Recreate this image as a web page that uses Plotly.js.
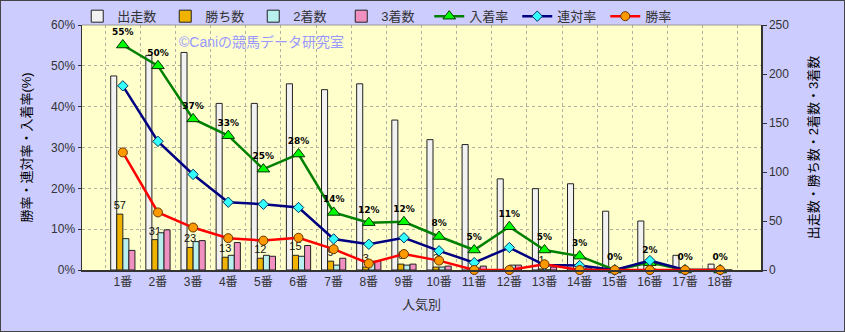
<!DOCTYPE html>
<html>
<head>
<meta charset="utf-8">
<script src="https://cdn.plot.ly/plotly-3.0.1.min.js"></script>
<style>
  html, body { margin: 0; padding: 0; background: #ccccff; }
  #wrap { width: 845px; height: 332px; box-sizing: border-box; border: 1px solid #444; }
  #chart { width: 843px; height: 330px; }
</style>
</head>
<body>
<div id="wrap"><div id="chart"></div></div>
<script>
const categories = ['1番','2番','3番','4番','5番','6番','7番','8番','9番','10番','11番','12番','13番','14番','15番','16番','17番','18番'];
const runners    = [198, 219, 222, 170, 170, 190, 184, 190, 153, 133, 128, 93, 83, 88, 60, 50, 15, 6];
const wins       = [57, 31, 23, 13, 12, 15, 9, 3, 6, 3, 0, 0, 1, 0, 0, 0, 0, 0];
const seconds    = [32, 38, 29, 15, 15, 14, 5, 9, 5, 3, 2, 5, 0, 1, 0, 1, 0, 0];
const thirds     = [20, 41, 30, 28, 14, 25, 12, 9, 6, 4, 4, 5, 3, 2, 0, 0, 0, 0];
const placeRate    = [55.1, 50.0, 37.0, 32.9, 24.7, 28.4, 14.1, 11.6, 11.8, 8.2, 4.9, 10.6, 4.9, 3.4, 0, 1.8, 0, 0];
const quinellaRate = [45.1, 31.5, 23.4, 16.6, 16.1, 15.3, 7.6, 6.3, 7.9, 4.7, 1.8, 5.5, 1.2, 1.1, 0, 2.3, 0, 0];
const winRate      = [28.8, 14.1, 10.4, 7.8, 7.2, 7.9, 5.1, 1.6, 3.9, 2.3, 0, 0, 1.4, 0, 0, 0, 0, 0];

const JP = 'Liberation Sans, Noto Sans CJK JP, sans-serif';

const traces = [
  {type:'bar', name:'出走数', x:categories, y:runners, yaxis:'y',
   marker:{color:'#f2f2f2', line:{color:'#222', width:1}}},
  {type:'bar', name:'勝ち数', x:categories, y:wins, yaxis:'y',
   text: wins.map(v => v > 0 ? String(v) : ''), textposition:'outside', cliponaxis:false,
   constraintext:'none',
   textfont:{size:11, color:'#111', family:JP},
   marker:{color:'#f0b400', line:{color:'#222', width:1}}},
  {type:'bar', name:'2着数', x:categories, y:seconds, yaxis:'y',
   marker:{color:'#b8f0f0', line:{color:'#222', width:1}}},
  {type:'bar', name:'3着数', x:categories, y:thirds, yaxis:'y',
   marker:{color:'#f090c0', line:{color:'#222', width:1}}},
  {type:'scatter', mode:'lines+markers+text', name:'入着率', x:categories, y:placeRate, yaxis:'y2',
   texttemplate:'%{y:.0f}%', textposition:'top center', cliponaxis:false,
   textfont:{size:9, color:'#000', family:'DejaVu Sans', weight:'bold'},
   line:{color:'#008000', width:2.5},
   marker:{symbol:'triangle-up', size:11, color:'#00ff00', line:{color:'#003300', width:1}}},
  {type:'scatter', mode:'lines+markers', name:'連対率', x:categories, y:quinellaRate, yaxis:'y2',
   cliponaxis:false,
   line:{color:'#000080', width:2.5},
   marker:{symbol:'diamond', size:8, color:'#33ffff', line:{color:'#003366', width:1}}},
  {type:'scatter', mode:'lines+markers', name:'勝率', x:categories, y:winRate, yaxis:'y2',
   cliponaxis:false,
   line:{color:'#ff0000', width:2.5},
   marker:{symbol:'circle', size:9, color:'#ff9900', line:{color:'#663300', width:1}}}
];

const layout = {
  width: 843, height: 330,
  margin: {l:81, r:83, t:24, b:61, autoexpand:false},
  paper_bgcolor:'#ccccff', plot_bgcolor:'#ffffcc',
  font:{family:JP, size:12, color:'#333'},
  barmode:'group', bargap:0.31, bargroupgap:0,
  showlegend:true,
  legend:{orientation:'h', x:-0.007, xanchor:'left', y:1.097, yanchor:'top',
          bgcolor:'rgba(0,0,0,0)', font:{size:13, color:'#333'},
          entrywidth:43, entrywidthmode:'pixels', itemwidth:30, traceorder:'normal'},
  xaxis:{type:'category', tickson:'boundaries', showgrid:true, gridcolor:'#b0b0a0', griddash:'dot',
         ticks:'', showline:true, linecolor:'#333', linewidth:1.5, mirror:false,
         tickfont:{size:12, color:'#333'},
         title:{text:'人気別', font:{size:13, color:'#333'}, standoff:12}},
  yaxis:{side:'right', range:[0,250], dtick:50, showgrid:false, zeroline:false,
         showline:true, linecolor:'#333', linewidth:1.5, ticks:'outside', ticklen:4, tickcolor:'#333',
         tickfont:{size:12, color:'#333'},
         title:{text:'出走数・勝ち数・2着数・3着数', font:{size:13, color:'#000'}, standoff:20}},
  yaxis2:{overlaying:'y', side:'left', range:[0,60], dtick:10, ticksuffix:'%',
          showgrid:true, gridcolor:'#b0b0a0', griddash:'dot', zeroline:false,
          showline:true, linecolor:'#333', linewidth:1.5, ticks:'outside', ticklen:3, tickcolor:'#333',
          tickfont:{size:12, color:'#333'},
          title:{text:'勝率・連対率・入着率(%)', font:{size:13, color:'#000'}, standoff:16}},
  shapes:[{type:'line', xref:'paper', yref:'paper', x0:0, x1:1, y0:1, y1:1,
           line:{color:'#999', width:1}}],
  annotations:[{text:'©Caniの競馬データ研究室', xref:'paper', yref:'paper',
                x:0.14, xanchor:'left', y:0.93, yanchor:'middle', showarrow:false,
                font:{size:14, color:'#9999ff', family:JP}}]
};

Plotly.newPlot('chart', traces, layout, {displayModeBar:false, staticPlot:true});
</script>
</body>
</html>
